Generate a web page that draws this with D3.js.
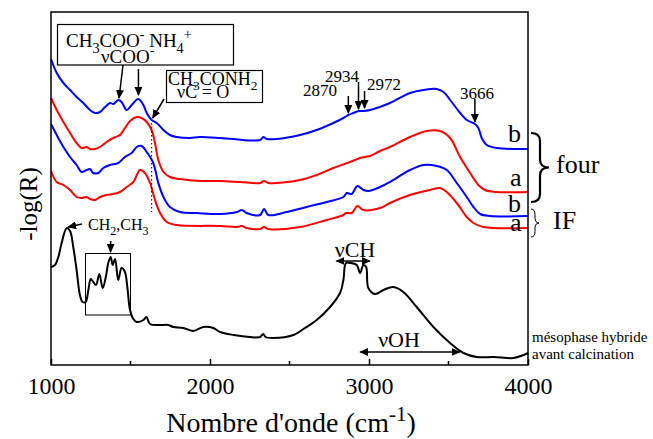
<!DOCTYPE html>
<html>
<head>
<meta charset="utf-8">
<script src="https://cdn.jsdelivr.net/npm/d3@7"></script>
<style>
  body { margin: 0; background: #fff; }
  svg { display: block; }
  text { font-family: "Liberation Serif", "Times New Roman", serif; fill: #000; }
</style>
</head>
<body>
<svg id="chart" width="653" height="439"></svg>
<script>
// spectra: [wavenumber cm-1, -log(R) in arbitrary units, already offset]
var fourB = [[1000,306],[1036,292],[1078,282],[1120,275],[1161,268],[1203,262],[1245,255],[1277,252],[1308,253],[1340,258],[1371,262],[1392,261],[1423,265],[1444,263],[1476,255],[1507,260],[1549,266],[1581,260],[1602,252],[1633,245],[1665,242],[1707,235],[1748,230],[1790,228],[1874,227],[1937,228],[2063,227],[2145,226],[2315,225],[2335,228],[2357,226],[2420,226],[2566,230],[2671,235],[2776,242],[2839,247],[2870,250],[2902,252],[2934,254],[2965,254],[3007,255],[3132,262],[3258,272],[3342,275],[3426,276],[3468,273],[3520,263],[3573,252],[3615,245],[3667,241],[3688,237],[3709,227],[3741,220],[3803,217],[4000,216]];

var fourA = [[1000,267],[1036,255],[1078,243],[1120,232],[1161,222],[1193,217],[1224,218],[1245,216],[1277,216],[1308,218],[1350,223],[1392,227],[1434,230],[1465,237],[1497,244],[1539,248],[1570,247],[1602,243],[1633,235],[1654,222],[1675,205],[1707,193],[1748,188],[1811,186],[1937,184],[2063,184],[2189,183],[2315,182],[2340,184],[2367,182],[2566,185],[2671,190],[2776,197],[2881,203],[2944,207],[3007,209],[3070,214],[3132,218],[3258,228],[3363,234],[3447,234],[3510,227],[3573,208],[3636,192],[3688,180],[3730,175],[3803,173],[4000,173]];

var ifB = [[1000,241],[1036,230],[1078,218],[1120,208],[1161,200],[1193,193],[1224,195],[1245,196],[1266,192],[1298,192],[1329,197],[1371,200],[1423,202],[1465,208],[1507,212],[1539,218],[1570,219],[1602,213],[1643,202],[1675,182],[1707,168],[1748,158],[1811,153],[1916,152],[2063,151],[2170,153],[2200,155],[2230,152],[2315,150],[2340,156],[2367,150],[2482,153],[2608,158],[2734,163],[2839,168],[2860,172],[2891,171],[2927,179],[2965,175],[2996,174],[3070,178],[3132,183],[3258,195],[3342,200],[3426,199],[3489,195],[3552,182],[3615,168],[3657,158],[3699,151],[3762,149],[4000,149]];

var ifA = [[1000,194],[1036,183],[1078,180],[1120,175],[1161,168],[1193,167],[1224,168],[1245,166],[1277,165],[1308,168],[1350,170],[1392,171],[1434,173],[1476,178],[1518,183],[1560,195],[1591,192],[1623,182],[1654,165],[1686,152],[1728,143],[1790,140],[2063,139],[2170,138],[2200,139],[2230,137],[2315,136],[2340,138],[2367,136],[2566,138],[2734,145],[2839,150],[2855,152],[2891,152],[2927,159],[2965,155],[3070,157],[3132,162],[3258,170],[3384,175],[3447,177],[3489,173],[3552,162],[3615,148],[3657,142],[3720,138],[4000,137]];

var hybride = [[1000,98],[1025,100],[1046,108],[1067,122],[1099,137],[1120,134],[1140,118],[1161,95],[1182,70],[1199,63],[1218,63],[1235,75],[1250,86],[1266,83],[1283,80],[1304,91],[1325,77],[1346,89],[1360,102],[1375,108],[1388,100],[1403,106],[1423,85],[1444,97],[1465,93],[1480,78],[1497,55],[1518,46],[1539,43],[1581,45],[1600,48],[1623,41],[1686,40],[1738,40],[1769,38],[1832,37],[1895,34],[1958,38],[2021,37],[2063,33],[2150,30],[2250,28],[2315,28],[2335,31],[2350,28],[2399,27],[2525,30],[2588,36],[2671,45],[2755,58],[2818,72],[2839,85],[2855,102],[2881,102],[2923,100],[2944,92],[2965,100],[2982,98],[2996,77],[3038,71],[3091,75],[3153,78],[3216,73],[3300,58],[3405,38],[3510,22],[3594,12],[3678,8],[3783,8],[3909,7],[3972,10],[4000,12]];

var xTicks = [1000, 2000, 3000, 4000];
var xMinor = [1500, 2500, 3500];
var peakMarks = [2870, 2934, 2972, 3666];

var serif = '"Liberation Serif", "Times New Roman", serif';
var svg = d3.select("#chart");
var mLeft = 51, mRight = 528, mTop = 12, mBottom = 365;

var x = d3.scaleLinear().domain([1000, 4000]).range([mLeft, mRight]);
var y = d3.scaleLinear().domain([0, 353]).range([mBottom, mTop]);

var defs = svg.append("defs");
defs.append("marker")
    .attr("id", "head")
    .attr("markerUnits", "userSpaceOnUse")
    .attr("markerWidth", 9).attr("markerHeight", 8)
    .attr("refX", 8).attr("refY", 4)
    .attr("orient", "auto-start-reverse")
    .append("path").attr("d", "M0,0 L9,4 L0,8 Z").attr("fill", "#000");

var line = d3.line()
    .x(d => x(d[0]))
    .y(d => y(d[1]))
    .curve(d3.curveCatmullRom.alpha(0.5));

var series = [
    {data: hybride, color: "#000"},
    {data: ifA, color: "#ff0000"},
    {data: ifB, color: "#0000ff"},
    {data: fourA, color: "#ff0000"},
    {data: fourB, color: "#0000ff"}
];

svg.append("g").selectAll("path")
    .data(series)
    .enter()
    .append("path")
    .attr("d", d => line(d.data))
    .attr("fill", "none")
    .attr("stroke", d => d.color)
    .attr("stroke-width", 2)
    .attr("stroke-linejoin", "round");

// frame
svg.append("rect")
    .attr("x", mLeft).attr("y", mTop)
    .attr("width", mRight - mLeft).attr("height", mBottom - mTop)
    .attr("fill", "none").attr("stroke", "#000").attr("stroke-width", 1.5);

// bottom axis, ticks pointing in
var xAxis = svg.append("g")
    .attr("transform", "translate(0," + mBottom + ")")
    .call(d3.axisBottom(x).tickValues(xTicks).tickSize(-6).tickFormat(d3.format("d")).tickPadding(12));
xAxis.attr("font-family", null);
xAxis.select(".domain").remove();
xAxis.selectAll("line").attr("stroke-width", 1.5);
xAxis.selectAll("text").attr("font-size", 24).style("font-family", serif);

svg.append("g").selectAll("line")
    .data(xMinor)
    .enter().append("line")
    .attr("x1", d => x(d)).attr("x2", d => x(d))
    .attr("y1", mBottom).attr("y2", mBottom - 4)
    .attr("stroke", "#000").attr("stroke-width", 1.5);

// rich text helper: parts = [[str, "n"|"sub"|"sup"]]
function rich(g, px, py, parts, size, anchor) {
    var t = g.append("text")
        .attr("x", px).attr("y", py)
        .attr("font-size", size)
        .style("font-family", serif)
        .attr("text-anchor", anchor || "start");
    parts.forEach(function (p) {
        var s = t.append("tspan").text(p[0]);
        if (p[1] == "sub") s.attr("font-size", size * 0.75).attr("baseline-shift", -size * 0.3);
        if (p[1] == "sup") s.attr("font-size", size * 0.75).attr("baseline-shift", size * 0.4);
    });
    return t;
}

function arrow(x1, y1, x2, y2, both) {
    var l = svg.append("line")
        .attr("x1", x1).attr("y1", y1).attr("x2", x2).attr("y2", y2)
        .attr("stroke", "#000").attr("stroke-width", 1.5)
        .attr("marker-end", "url(#head)");
    if (both) l.attr("marker-start", "url(#head)");
}

function brace(bx, y0, y1, w, sw) {
    var mid = (y0 + y1) / 2, r = Math.min(8, (y1 - y0) / 5), xm = bx + w / 2;
    svg.append("path")
        .attr("d", "M" + bx + "," + y0 +
            " Q" + xm + "," + y0 + " " + xm + "," + (y0 + r) +
            " L" + xm + "," + (mid - r) +
            " Q" + xm + "," + mid + " " + (bx + w) + "," + mid +
            " Q" + xm + "," + mid + " " + xm + "," + (mid + r) +
            " L" + xm + "," + (y1 - r) +
            " Q" + xm + "," + y1 + " " + bx + "," + y1)
        .attr("fill", "none").attr("stroke", "#000").attr("stroke-width", sw);
}

var ann = svg.append("g");

// acetate box
ann.append("rect").attr("x", 57.5).attr("y", 24.5).attr("width", 176).attr("height", 40.5)
    .attr("fill", "#fff").attr("stroke", "#000").attr("stroke-width", 1.2);
rich(ann, 66, 47, [["CH","n"],["3","sub"],["COO","n"],["-","sup"],[" NH","n"],["4","sub"],["+","sup"]], 19);
rich(ann, 101, 63, [["\u03bdCOO","n"],["-","sup"]], 19);
arrow(123, 65, x(1428), y(267));
arrow(x(1550), 69, x(1550), y(270));

// acetamide box
ann.append("rect").attr("x", 166.5).attr("y", 70.5).attr("width", 96).attr("height", 32)
    .attr("fill", "#fff").attr("stroke", "#000").attr("stroke-width", 1.2);
rich(ann, 168, 85, [["CH","n"],["3","sub"],["CONH","n"],["2","sub"]], 18);
rich(ann, 177, 98, [["\u03bdC = O","n"]], 18);
arrow(164, 99, x(1640), y(247));

ann.append("line")
    .attr("x1", x(1633)).attr("x2", x(1633))
    .attr("y1", y(242)).attr("y2", y(153))
    .attr("stroke", "#000").attr("stroke-width", 1).attr("stroke-dasharray", "1.5,2.5");

// peak marks on top spectrum
var markTop = {2870: 96, 2934: 82, 2972: 91, 3666: 99};
peakMarks.forEach(function (w) {
    arrow(x(w), markTop[w], x(w), y(fourB.find(d => d[0] >= w)[1]) - 2);
});
rich(ann, 303, 96, [["2870","n"]], 17);
rich(ann, 325, 82, [["2934","n"]], 17);
rich(ann, 367, 90, [["2972","n"]], 17);
rich(ann, 460, 99, [["3666","n"]], 17);

// series labels
rich(ann, 508, 142, [["b","n"]], 26);
rich(ann, 510, 186, [["a","n"]], 26);
rich(ann, 508, 212, [["b","n"]], 26);
rich(ann, 510, 231, [["a","n"]], 26);
brace(531, 133, 202, 18, 2.2);
rich(ann, 556, 173, [["four","n"]], 26);
brace(531, 209, 237, 8, 1);
rich(ann, 553, 229, [["IF","n"]], 26);

// hybrid mesophase annotations
rich(ann, 88, 230, [["CH","n"],["2","sub"],[",CH","n"],["3","sub"]], 16);
arrow(82, 224, x(1108), y(138));
arrow(x(1375), 241, x(1375), 252);
ann.append("rect").attr("x", 85.5).attr("y", 253.5).attr("width", 45).attr("height", 61.5)
    .attr("fill", "none").attr("stroke", "#000").attr("stroke-width", 1);

rich(ann, 355, 257, [["\u03bdCH","n"]], 22, "middle");
arrow(x(2795), 261, x(3005), 261, true);
rich(ann, 399, 347, [["\u03bdOH","n"]], 22, "middle");
arrow(x(2945), 352, x(3570), 352, true);

rich(ann, 532, 342, [["m\u00e9sophase hybride","n"]], 15);
rich(ann, 532, 359, [["avant calcination","n"]], 15);

// axis titles
rich(svg, 291, 432, [["Nombre d'onde (cm","n"],["-1","sup"],[")","n"]], 28, "middle");
svg.append("text")
    .attr("transform", "translate(37,204) rotate(-90)")
    .attr("text-anchor", "middle")
    .attr("font-size", 25)
    .style("font-family", serif)
    .text("-log(R)");
</script>
</body>
</html>
